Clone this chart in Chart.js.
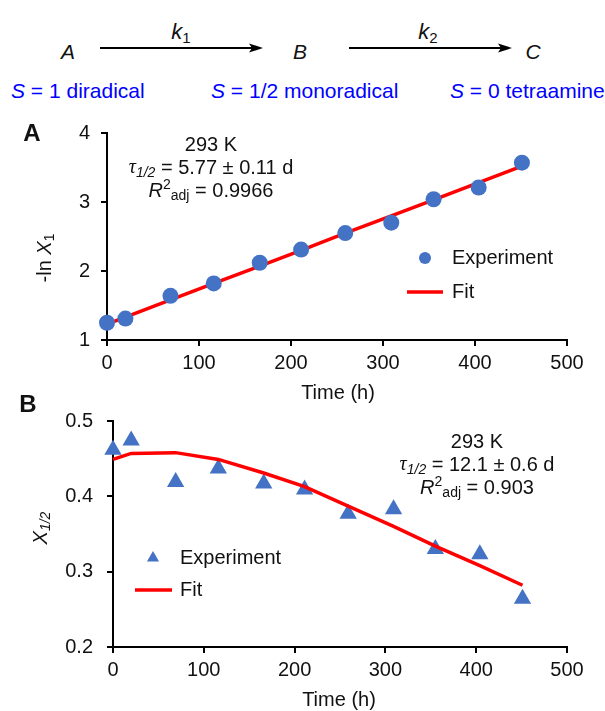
<!DOCTYPE html>
<html>
<head>
<meta charset="utf-8">
<script src="https://cdn.jsdelivr.net/npm/chart.js@4.4.0/dist/chart.umd.min.js"></script>
<style>
  body { margin: 0; background: #fff; }
  #wrap { position: relative; width: 605px; height: 711px; font-family: Arial, "Liberation Sans", sans-serif; color: #111; }
  #wrap canvas { position: absolute; left: 0; top: 0; }
  .t { position: absolute; white-space: nowrap; font-size: 21px; line-height: 21px; transform: translateY(-50%); }
  .c { transform: translate(-50%, -50%); }
  .blue { color: #0000ff; }
  i { font-style: italic; }
  sub { font-size: 15px; vertical-align: -4px; line-height: 0; }
  svg { position: absolute; left: 0; top: 0; }
</style>
</head>
<body>
<div id="wrap">
  <svg width="605" height="110">
    <line x1="100" y1="48" x2="252" y2="48" stroke="#000" stroke-width="2"/>
    <polygon points="263,48 249,43.5 252,48 249,52.5" fill="#000"/>
    <line x1="349" y1="48" x2="501" y2="48" stroke="#000" stroke-width="2"/>
    <polygon points="512,48 498,43.5 501,48 498,52.5" fill="#000"/>
  </svg>
  <span class="t c" style="left:68px;top:51px"><i>A</i></span>
  <span class="t c" style="left:300px;top:51px"><i>B</i></span>
  <span class="t c" style="left:533px;top:51px"><i>C</i></span>
  <span class="t c" style="left:181px;top:31px;font-size:22px"><i>k</i><sub>1</sub></span>
  <span class="t c" style="left:428px;top:31px;font-size:22px"><i>k</i><sub>2</sub></span>
  <span class="t blue" style="left:11px;top:90px"><i>S</i> = 1 diradical</span>
  <span class="t blue" style="left:211px;top:90px"><i>S</i> = 1/2 monoradical</span>
  <span class="t blue" style="left:450px;top:90px"><i>S</i> = 0 tetraamine</span>
  <canvas id="chartA" width="605" height="711"></canvas>
  <canvas id="chartB" width="605" height="711"></canvas>
</div>
<script>
// sampling times (h), same for both panels
var timeH = [0, 20, 69, 116, 166, 211, 259, 309, 355, 404, 451];
// panel A: -ln X1
var lnX1 = [1.25, 1.31, 1.64, 1.82, 2.12, 2.31, 2.55, 2.70, 3.04, 3.21, 3.57];
var lnX1Fit = [1.23, 1.33, 1.58, 1.82, 2.07, 2.30, 2.55, 2.80, 3.03, 3.28, 3.52];
// panel B: X1/2
var x12 = [0.462, 0.474, 0.419, 0.437, 0.417, 0.409, 0.377, 0.383, 0.330, 0.323, 0.264];
var x12Fit = [0.449, 0.457, 0.458, 0.449, 0.431, 0.413, 0.387, 0.360, 0.334, 0.308, 0.282];

var seriesNames = ['Experiment', 'Fit'];
var labelA = ['293 K', '5.77 \u00b1 0.11 d', '0.9966'];
var labelB = ['293 K', '12.1 \u00b1 0.6 d', '0.903'];

var BLUE = '#4472c4';
var RED = '#ff0000';
var FONT = 'Arial, "Liberation Sans", sans-serif';

function pts(xs, ys) {
  return xs.map(function(x, i) { return { x: x, y: ys[i] }; });
}

function fontFor(r, size) {
  var s = (r.sub || r.sup) ? Math.round(size * 0.68) : size;
  var fam = r.serif ? '"Liberation Serif", serif' : FONT;
  return (r.bold ? 'bold ' : '') + (r.it ? 'italic ' : '') + s + 'px ' + fam;
}

// draw a row of text pieces (italic / sub / sup) on one baseline
function drawRuns(ctx, runs, x, y, align, size) {
  var w = 0;
  runs.forEach(function(r) {
    ctx.font = fontFor(r, size);
    r.w = ctx.measureText(r.t).width;
    w += r.w;
  });
  var sx = align === 'center' ? x - w / 2 : x;
  ctx.textAlign = 'left';
  ctx.textBaseline = 'middle';
  runs.forEach(function(r) {
    ctx.font = fontFor(r, size);
    var dy = r.sub ? size * 0.27 : (r.sup ? -size * 0.27 : 0);
    ctx.fillText(r.t, sx, y + dy);
    sx += r.w;
  });
}

function statLines(ctx, cx, y0, lab) {
  drawRuns(ctx, [{ t: lab[0] }], cx, y0, 'center', 20);
  drawRuns(ctx, [{ t: '\u03c4', it: true, serif: true }, { t: '1/2', it: true, sub: true }, { t: ' = ' + lab[1] }], cx, y0 + 23, 'center', 20);
  drawRuns(ctx, [{ t: 'R', it: true }, { t: '2', sup: true }, { t: 'adj', sub: true }, { t: ' = ' + lab[2] }], cx, y0 + 46, 'center', 20);
}

function legend(ctx, mx, my, lx, ly, tx, style) {
  ctx.save();
  ctx.fillStyle = BLUE;
  ctx.beginPath();
  if (style === 'circle') {
    ctx.arc(mx, my, 6, 0, Math.PI * 2);
  } else {
    var r = 7;
    ctx.moveTo(mx, my - r);
    ctx.lineTo(mx + r * 0.866, my + r / 2);
    ctx.lineTo(mx - r * 0.866, my + r / 2);
    ctx.closePath();
  }
  ctx.fill();
  ctx.strokeStyle = RED;
  ctx.lineWidth = 3.5;
  ctx.beginPath();
  ctx.moveTo(lx[0], ly);
  ctx.lineTo(lx[1], ly);
  ctx.stroke();
  ctx.fillStyle = '#111';
  drawRuns(ctx, [{ t: seriesNames[0] }], tx, my, 'left', 20);
  drawRuns(ctx, [{ t: seriesNames[1] }], tx, ly, 'left', 20);
  ctx.restore();
}

function axisOpts(min, max, step, pad) {
  return {
    type: 'linear',
    min: min,
    max: max,
    ticks: { stepSize: step, color: '#111', padding: pad, font: { size: 20, family: FONT } },
    grid: { drawOnChartArea: false, drawTicks: true, tickLength: 6, color: '#000', lineWidth: 2 },
    border: { display: true, color: '#000', width: 2 }
  };
}

Chart.defaults.font.family = FONT;

// panel A
var xA = axisOpts(0, 500, 100, 5);
xA.afterFit = function(s) { s.height = 60; };
var yA = axisOpts(1, 4, 1, 11);
yA.afterFit = function(s) { s.width = 107; };

new Chart(document.getElementById('chartA'), {
  type: 'scatter',
  data: {
    datasets: [
      { label: seriesNames[0], data: pts(timeH, lnX1), order: 0, clip: false, backgroundColor: BLUE, borderColor: BLUE, pointRadius: 8, borderWidth: 0 },
      { label: seriesNames[1], data: pts(timeH, lnX1Fit), order: 1, clip: false, showLine: true, borderColor: RED, borderWidth: 3.5, pointRadius: 0 }
    ]
  },
  options: {
    responsive: false,
    animation: false,
    layout: { padding: { top: 133, right: 38, bottom: 311, left: 0 } },
    plugins: { legend: { display: false }, tooltip: { enabled: false } },
    scales: { x: xA, y: yA }
  },
  plugins: [{
    id: 'textA',
    afterDraw: function(chart) {
      var ctx = chart.ctx;
      ctx.save();
      ctx.fillStyle = '#111';
      drawRuns(ctx, [{ t: 'A', bold: true }], 32, 134, 'center', 24);
      statLines(ctx, 211, 145, labelA);
      drawRuns(ctx, [{ t: 'Time (h)' }], 338, 393, 'center', 20);
      ctx.translate(45, 258);
      ctx.rotate(-Math.PI / 2);
      drawRuns(ctx, [{ t: '-ln ' }, { t: 'X', it: true }, { t: '1', sub: true }], 0, 0, 'center', 20);
      ctx.restore();
      legend(ctx, 425, 258, [407, 443], 292, 452, 'circle');
    }
  }]
});

// panel B
var xB = axisOpts(0, 500, 100, 5);
xB.afterFit = function(s) { s.height = 60; };
var yB = axisOpts(0.2, 0.5, 0.1, 14);
yB.afterFit = function(s) { s.width = 113; };

new Chart(document.getElementById('chartB'), {
  type: 'scatter',
  data: {
    datasets: [
      { label: seriesNames[0], data: pts(timeH, x12), order: 1, clip: false, pointStyle: 'triangle', backgroundColor: BLUE, borderColor: BLUE, pointRadius: 10, borderWidth: 0 },
      { label: seriesNames[1], data: pts(timeH, x12Fit), order: 0, clip: false, showLine: true, borderColor: RED, borderWidth: 3.5, pointRadius: 0 }
    ]
  },
  options: {
    responsive: false,
    animation: false,
    layout: { padding: { top: 421, right: 38, bottom: 4, left: 0 } },
    plugins: { legend: { display: false }, tooltip: { enabled: false } },
    scales: { x: xB, y: yB }
  },
  plugins: [{
    id: 'textB',
    afterDraw: function(chart) {
      var ctx = chart.ctx;
      ctx.save();
      ctx.fillStyle = '#111';
      drawRuns(ctx, [{ t: 'B', bold: true }], 28, 405, 'center', 24);
      statLines(ctx, 477, 442, labelB);
      drawRuns(ctx, [{ t: 'Time (h)' }], 339, 700, 'center', 20);
      ctx.translate(41, 528);
      ctx.rotate(-Math.PI / 2);
      drawRuns(ctx, [{ t: 'X', it: true }, { t: '1/2', it: true, sub: true }], 0, 0, 'center', 20);
      ctx.restore();
      legend(ctx, 153, 558, [135, 172], 590, 180, 'triangle');
    }
  }]
});
</script>
</body>
</html>
